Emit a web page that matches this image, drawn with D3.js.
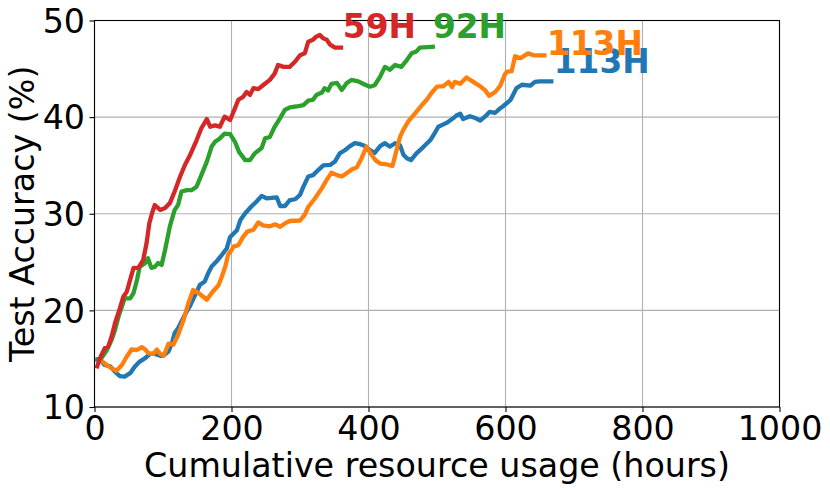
<!DOCTYPE html>
<html>
<head>
<meta charset="utf-8">
<script src="https://cdn.jsdelivr.net/npm/d3@7"></script>
<style>
html,body{margin:0;padding:0;background:#fff;}
svg{display:block;font-family:"DejaVu Sans",sans-serif;}
</style>
</head>
<body>
<svg id="chart" width="830" height="492"></svg>
<script>
// ---- data (x: cumulative hours, y: test accuracy %) ----
const xTicks = [0, 200, 400, 600, 800, 1000];
const yTicks = [10, 20, 30, 40, 50];

const series113Hblue = [[1,14.9],[8,14.9],[15,14.35],[23,14.2],[30,13.65],[37,13.2],[44,13.15],[52,13.5],[59,14.2],[66,14.7],[74,15.05],[81,15.5],[88,15.5],[96,15.3],[100,15.3],[108,15.75],[113,16.6],[117,17.65],[122,18.15],[127,18.85],[132,19.55],[139,20.4],[147,21.6],[154,22.65],[161,23.0],[166,23.85],[171,24.55],[178,25.05],[186,25.75],[193,26.4],[198,27.6],[208,28.3],[213,29.35],[220,30.05],[229,30.75],[237,31.3],[244,31.85],[251,31.6],[259,31.65],[266,31.7],[271,30.8],[278,30.8],[285,31.4],[293,31.5],[300,31.95],[305,32.8],[312,33.85],[319,34.0],[327,34.55],[334,35.0],[344,35.05],[351,35.4],[358,36.25],[366,36.6],[373,37.0],[380,37.3],[388,37.2],[395,37.0],[402,36.6],[409,36.3],[417,37.0],[424,37.3],[431,36.95],[439,37.3],[446,37.1],[451,36.1],[456,35.75],[462,35.55],[470,36.25],[480,36.9],[490,37.6],[495,38.15],[502,39.0],[514,39.4],[524,39.9],[529,40.2],[534,40.35],[538,39.8],[548,40.1],[556,39.9],[563,39.65],[570,40.05],[577,40.55],[585,40.45],[592,40.9],[597,41.15],[607,41.75],[611,42.3],[616,43.0],[624,43.35],[636,43.25],[643,43.65],[650,43.7],[670,43.7]];

const series113Horange = [[8,14.9],[18,14.35],[25,14.0],[32,13.75],[40,14.35],[47,15.2],[54,15.95],[62,15.9],[69,16.2],[74,15.95],[79,15.55],[86,15.5],[91,15.95],[96,15.5],[101,15.3],[108,16.55],[115,16.45],[122,17.45],[130,19.0],[137,20.75],[144,22.1],[152,21.8],[164,21.1],[171,21.8],[181,22.6],[186,23.5],[191,24.55],[195,25.75],[200,26.25],[203,26.6],[210,26.75],[217,27.6],[223,28.15],[232,28.35],[239,29.1],[246,28.8],[256,28.7],[264,28.9],[271,28.65],[278,29.0],[285,29.25],[300,29.3],[307,29.9],[312,30.7],[322,31.6],[332,32.65],[339,33.5],[346,34.25],[354,34.0],[361,33.85],[368,34.2],[376,34.6],[383,34.8],[390,35.75],[397,36.95],[403,36.25],[410,35.55],[417,35.2],[427,35.1],[435,34.95],[441,36.6],[446,37.95],[451,38.7],[458,39.55],[468,40.4],[478,41.25],[485,41.8],[492,42.5],[500,43.15],[509,43.2],[517,43.65],[522,43.1],[526,43.65],[534,43.45],[543,44.1],[553,43.65],[563,43.2],[570,42.8],[576,42.2],[585,42.6],[592,43.2],[599,44.4],[602,44.7],[609,44.75],[614,46.3],[622,46.1],[633,46.6],[641,46.4],[660,46.4]];

const series92H = [[3,14.9],[10,15.05],[18,15.9],[25,16.95],[30,18.0],[35,19.35],[40,20.4],[44,21.25],[52,21.25],[57,21.8],[62,23.15],[66,24.5],[74,24.9],[78,25.4],[83,24.4],[88,24.5],[93,24.9],[98,24.7],[103,26.25],[110,28.7],[117,30.4],[122,30.9],[127,32.3],[135,32.45],[142,32.45],[149,32.8],[156,34.0],[164,35.4],[171,36.95],[176,37.45],[183,37.8],[190,38.3],[198,38.25],[205,37.45],[211,36.4],[220,35.55],[227,35.55],[234,36.25],[244,36.8],[249,37.8],[256,37.95],[263,39.0],[271,39.9],[278,40.75],[285,41.0],[295,41.1],[305,41.25],[312,41.7],[319,41.8],[324,42.3],[332,42.55],[336,43.0],[341,42.75],[346,43.45],[354,43.55],[361,42.8],[368,43.5],[375,43.85],[385,43.7],[392,43.45],[402,43.15],[409,43.3],[417,44.2],[424,45.2],[431,44.9],[439,45.4],[448,45.2],[456,45.9],[463,46.6],[470,46.8],[475,47.2],[497,47.3]];

const series59H = [[3,14.0],[8,15.05],[15,16.1],[20,16.25],[25,17.3],[30,18.7],[37,20.2],[42,21.4],[47,21.9],[52,23.15],[57,24.4],[64,24.4],[71,25.2],[76,26.95],[80,29.0],[84,30.05],[88,30.9],[96,30.4],[103,30.6],[110,31.1],[117,32.3],[125,33.85],[132,35.05],[139,36.0],[149,37.6],[156,38.85],[164,39.8],[169,39.0],[176,39.15],[183,39.0],[190,40.05],[198,39.7],[205,40.9],[210,41.8],[217,42.1],[222,42.6],[227,42.3],[232,43.0],[239,42.9],[246,43.3],[256,43.85],[263,44.5],[268,45.4],[276,45.2],[285,45.2],[293,45.75],[300,46.4],[307,46.6],[312,47.8],[319,48.0],[323,48.3],[329,48.5],[334,48.15],[339,48.0],[344,47.5],[351,47.2],[363,47.2]];

// labels placed in data units
const seriesLabels = ["113H", "113H", "92H", "59H"];
const labelX = [670.5, 660.5, 494, 362.5];
const labelY = [44.6, 46.4, 48.2, 48.2];
const seriesColors = ["#1f77b4", "#ff7f0e", "#2ca02c", "#d62728"];

// ---- drawing ----
const svg = d3.select("#chart");
const L = 94.5, R = 779.5, T = 20.5, B = 407;
const x = d3.scaleLinear().domain([0, 1000]).range([L, R]);
const y = d3.scaleLinear().domain([10, 50]).range([B, T]);
const FS = 33.3;
const LFS = 32.8;

// grid
const grid = svg.append("g");
grid.selectAll("line.vx").data(xTicks).join("line")
  .attr("x1", d => x(d)).attr("x2", d => x(d)).attr("y1", T).attr("y2", B)
  .attr("stroke", "#b0b0b0").attr("stroke-width", 1.1);
grid.selectAll("line.hy").data(yTicks).join("line")
  .attr("y1", d => y(d)).attr("y2", d => y(d)).attr("x1", L).attr("x2", R)
  .attr("stroke", "#b0b0b0").attr("stroke-width", 1.1);

// lines
const allSeries = [series113Hblue, series113Horange, series92H, series59H];
const line = d3.line().x(d => x(d[0])).y(d => y(d[1]));
svg.append("clipPath").attr("id", "clip").append("rect")
  .attr("x", L).attr("y", T).attr("width", R - L).attr("height", B - T);
svg.append("g").attr("clip-path", "url(#clip)")
  .selectAll("path").data(allSeries).join("path")
  .attr("d", line)
  .attr("fill", "none")
  .attr("stroke", (d, i) => seriesColors[i])
  .attr("stroke-width", 4.3)
  .attr("stroke-linejoin", "round")
  .attr("stroke-linecap", "butt");

// axes
const xAxis = d3.axisBottom(x).tickValues(xTicks).tickSize(5).tickPadding(4.5).tickFormat(d3.format("d"));
const yAxis = d3.axisLeft(y).tickValues(yTicks).tickSize(5).tickPadding(4.5).tickFormat(d3.format("d"));
const gx = svg.append("g").attr("transform", `translate(0,${B})`).call(xAxis);
const gy = svg.append("g").attr("transform", `translate(${L},0)`).call(yAxis);
[gx, gy].forEach(g => {
  g.select(".domain").remove();
  g.selectAll(".tick line").attr("stroke", "#000").attr("stroke-width", 1.1);
  g.selectAll(".tick text").attr("font-size", FS).attr("fill", "#000")
    .attr("font-family", "DejaVu Sans");
});
gx.selectAll(".tick text").attr("dy", "0.71em");
gy.selectAll(".tick text").attr("dy", "0.35em");

// spines
svg.append("rect").attr("x", L).attr("y", T).attr("width", R - L).attr("height", B - T)
  .attr("fill", "none").attr("stroke", "#000").attr("stroke-width", 1.1);

// series labels
svg.append("g").selectAll("text").data(seriesLabels).join("text")
  .attr("x", (d, i) => x(labelX[i]))
  .attr("y", (d, i) => y(labelY[i]))
  .attr("fill", (d, i) => seriesColors[i])
  .attr("font-size", LFS).attr("font-weight", "bold")
  .text(d => d);

// axis titles
svg.append("text").attr("x", (L + R) / 2).attr("y", 477)
  .attr("text-anchor", "middle").attr("font-size", FS).attr("fill", "#000")
  .text("Cumulative resource usage (hours)");
svg.append("text").attr("transform", `translate(33.5,${(T + B) / 2}) rotate(-90)`)
  .attr("text-anchor", "middle").attr("font-size", FS).attr("fill", "#000")
  .text("Test Accuracy (%)");
</script>
</body>
</html>
